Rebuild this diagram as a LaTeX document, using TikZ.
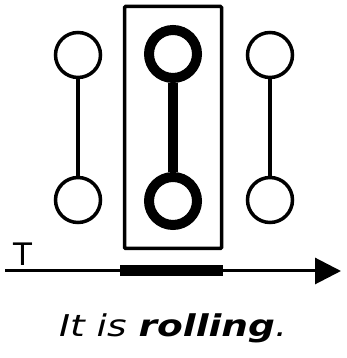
\documentclass[tikz,border=0pt]{standalone}
\usepackage{fontspec}
\setmainfont{DejaVu Sans}
\newfontfamily\capfont[FakeStretch=1.25]{DejaVu Sans}
\usetikzlibrary{arrows.meta,positioning}

\begin{document}
\begin{tikzpicture}[
  x=1pt, y=1pt,
  atom/.style={draw, circle, fill=white, line width=3.5pt, minimum size=45pt, inner sep=0pt},
  hot/.style={atom, line width=10pt, minimum size=48pt},
  bond/.style={line width=3.5pt},
  hotbond/.style={line width=10.5pt},
  frame/.style={draw, line width=3.5pt, rounded corners=1pt, minimum width=97pt, minimum height=242pt, inner sep=0pt},
  lbl/.style={font=\fontsize{31}{33}\selectfont, inner sep=0pt},
]
\useasboundingbox (0,0) rectangle (346,358);
% frame round the middle molecule
\node[frame] (box) at (173,230.5) {};
% left molecule
\node[atom] (l1) at (78,303) {};
\node[atom] (l2) at (78,158) {};
\draw[bond] (l1.south) -- (l2.north);
% middle molecule (rolling)
\node[hot] (m1) at (173,304) {};
\node[hot] (m2) at (173,157) {};
\draw[hotbond] (m1.south) -- (m2.north);
% right molecule
\node[atom] (r1) at (270,303) {};
\node[atom] (r2) at (270,158) {};
\draw[bond] (r1.south) -- (r2.north);

% --- time axis ---
\coordinate (t0) at (5,87);
\coordinate (t1) at (341,87);
\coordinate (b0) at (120,87);
\coordinate (b1) at (223,87);
\draw[line width=3pt, -{Triangle[length=26pt,width=26pt]}] (t0) -- (t1);
\draw[line width=11pt] (b0) -- (b1);
\node[lbl, anchor=base] (tlbl) at (23,92) {T};

% caption
\node[font=\capfont\fontsize{30}{34}\selectfont\itshape, anchor=base, inner sep=0pt] (cap) at (173,21)
  {It is \textbf{rolling}.};
\end{tikzpicture}
\end{document}
